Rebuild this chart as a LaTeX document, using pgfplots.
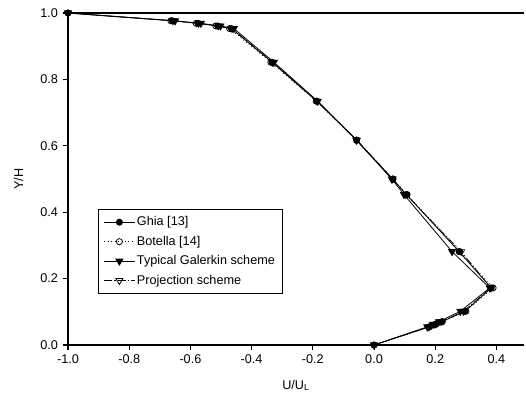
\documentclass[border=0pt]{standalone}
\usepackage{fontspec}
\setmainfont{Liberation Sans}
\usepackage{pgfplots}
\pgfplotsset{compat=1.18}

% u-velocity along the vertical centreline, Re = 1000 (sign as in the figure)
\pgfplotstableread{
U        Y
-1.000   1.0000
-0.659   0.9766
-0.575   0.9688
-0.511   0.9609
-0.466   0.9531
-0.333   0.8516
-0.187   0.7344
-0.057   0.6172
 0.061   0.5000
 0.106   0.4531
 0.278   0.2813
 0.383   0.1719
 0.297   0.1016
 0.222   0.0703
 0.202   0.0625
 0.181   0.0547
 0.000   0.0000
}\ghia
\pgfplotstableread{
U        Y
-1.000   1.0000
-0.664   0.9766
-0.581   0.9688
-0.517   0.9609
-0.472   0.9531
-0.337   0.8516
-0.189   0.7344
-0.057   0.6172
 0.062   0.5000
 0.108   0.4531
 0.280   0.2813
 0.389   0.1719
 0.300   0.1016
 0.223   0.0703
 0.202   0.0625
 0.181   0.0547
 0.000   0.0000
}\botella
\pgfplotstableread{
U        Y
-1.000   1.0000
-0.650   0.9766
-0.566   0.9688
-0.502   0.9609
-0.458   0.9531
-0.327   0.8516
-0.184   0.7344
-0.058   0.6172
 0.058   0.5000
 0.098   0.4531
 0.255   0.2813
 0.378   0.1719
 0.282   0.1016
 0.212   0.0703
 0.193   0.0625
 0.174   0.0547
 0.000   0.0000
}\galerkin
\pgfplotstableread{
U        Y
-1.000   1.0000
-0.657   0.9766
-0.573   0.9688
-0.509   0.9609
-0.464   0.9531
-0.332   0.8516
-0.186   0.7344
-0.056   0.6172
 0.061   0.5000
 0.104   0.4531
 0.285   0.2813
 0.382   0.1719
 0.292   0.1016
 0.219   0.0703
 0.199   0.0625
 0.179   0.0547
 0.000   0.0000
}\projection

\begin{document}
\begin{tikzpicture}
\begin{axis}[
  scale only axis,
  width=342pt, height=249pt,
  xmin=-1, xmax=0.49, ymin=0, ymax=1,
  axis x line*=bottom, axis y line*=left,
  axis line style={line width=1.1pt, -},
  xtick={-1,-0.8,...,0.41}, ytick={0,0.2,...,1.01},
  tick align=outside, major tick length=4pt,
  tick style={line width=0.8pt, black},
  minor tick num=0,
  /pgf/number format/.cd, fixed, fixed zerofill, precision=1, assume math mode=true,
  /pgfplots/.cd,
  tick label style={font=\fontsize{9.5}{11}\selectfont},
  label style={font=\fontsize{9.5}{11}\selectfont},
  xlabel={U/U$_\mathrm{L}$}, ylabel={Y/H},
  xlabel style={yshift=-5pt},
  ylabel style={yshift=6pt},
  clip=false,
  legend style={at={(0.066,0.41)}, anchor=north west,
    font=\fontsize{9.5}{11}\selectfont, draw=black, line width=0.6pt,
    row sep=3.2pt, inner xsep=4pt, inner ysep=4pt,
    nodes={inner sep=1.5pt}},
  legend cell align=left,
  legend image code/.code={\draw[mark repeat=2, mark phase=2, #1]
    plot coordinates {(0cm,0cm) (0.4cm,0cm) (0.8cm,0cm)};},
  legend image post style={line width=0.6pt},
]
\draw[line width=1.1pt] (axis cs:-1,1) -- (axis cs:0.49,1);
\addplot[black, line width=0.6pt, mark=*, mark size=2.3pt] table[x=U,y=Y] {\ghia};
\addlegendentry{Ghia [13]}
\addplot[black, dotted, line width=0.6pt, mark=o, mark size=2.3pt, mark options={solid, fill=white}] table[x=U,y=Y] {\botella};
\addlegendentry{Botella [14]}
\addplot[black, line width=0.6pt, mark=triangle*, mark size=3pt, mark options={rotate=180}] table[x=U,y=Y] {\galerkin};
\addlegendentry{Typical Galerkin scheme}
\addplot[black, line width=0.5pt, dash pattern=on 6pt off 1.5pt on 1pt off 1.5pt, mark=triangle, mark size=3pt, mark options={solid, rotate=180, fill=white}] table[x=U,y=Y] {\projection};
\addlegendentry{Projection scheme}
\end{axis}
\pgfresetboundingbox
\path (-51pt,-45pt) rectangle (343.5pt,258.75pt);
\end{tikzpicture}
\end{document}
